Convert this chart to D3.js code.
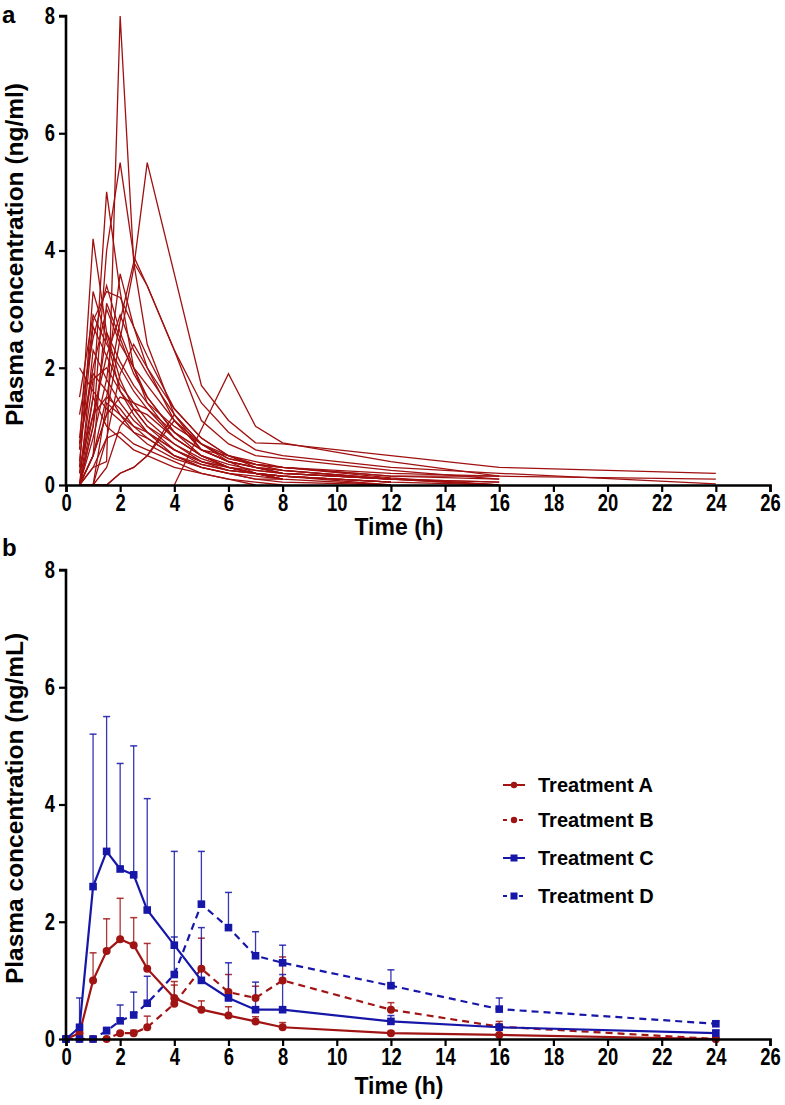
<!DOCTYPE html>
<html><head><meta charset="utf-8">
<script src="https://cdn.jsdelivr.net/npm/d3@7"></script>
<style>
body{margin:0;background:#fff;}
svg{display:block;}
.tick text{font-family:"Liberation Sans",Arial,sans-serif;font-weight:bold;}
</style></head>
<body><svg id="chart" width="785" height="1105"></svg>
<script>
// ---------- Data ----------
const xTicks = [0,2,4,6,8,10,12,14,16,18,20,22,24,26];
const yTicks = [0,2,4,6,8];
// panel a: individual subject sampling times and concentrations
const subjTimes = [0.5,1,1.5,2,2.5,3,4,5,6,7,8,12,16,24];
const subjects = [
  [0.0,0.3,0.4,8.0,3.8,2.4,1.2,0.7,0.45,0.35,0.3,0.12,0.0,null],
  [0.0,1.0,4.0,5.5,3.9,3.4,2.3,1.1,0.7,0.5,0.45,0.25,0.1,null],
  [0.0,0.5,1.2,2.5,3.7,5.5,3.6,1.7,1.1,0.72,0.7,0.5,0.3,0.2],
  [0.2,1.5,5.0,3.3,2.0,1.4,0.8,0.5,0.3,0.2,0.15,0.05,0.0,null],
  [0.6,4.2,2.6,1.8,1.3,1.0,0.6,0.35,0.25,0.2,0.15,0.05,null,null],
  [1.2,2.5,3.4,2.6,2.0,1.5,0.9,0.6,0.4,0.3,0.25,0.1,0.05,null],
  [0.8,2.8,3.3,3.2,2.7,2.2,1.3,0.8,0.5,0.4,0.3,0.15,0.15,0.1],
  [0.0,0.5,1.5,2.8,3.8,3.4,2.3,1.4,0.9,0.6,0.5,0.3,0.2,0.02],
  [null,null,null,null,null,null,0.0,0.95,1.9,1.0,0.72,0.4,0.15,null],
  [1.5,2.9,2.4,2.0,1.6,1.3,0.8,0.5,0.3,0.25,0.2,null,null,null],
  [0.7,2.0,3.0,2.4,2.0,1.7,1.1,0.6,0.4,0.3,0.2,0.1,null,null],
  [0.0,1.2,2.2,2.9,2.3,1.9,1.2,0.7,0.45,0.35,0.3,0.15,0.1,null],
  [0.3,3.3,2.5,1.6,1.2,0.9,0.5,0.3,0.2,0.1,0.1,null,null,null],
  [0.0,0.8,1.8,3.6,2.7,2.0,1.1,0.6,0.4,0.3,0.2,0.1,null,null],
  [0.2,1.8,2.0,1.6,1.3,1.0,0.7,0.4,0.3,0.2,0.15,0.0,null,null],
  [0.0,0.5,1.2,1.5,1.4,1.3,0.9,0.6,0.4,0.3,0.25,0.1,0.0,null],
  [0.0,1.0,2.6,2.1,1.7,1.4,1.0,0.7,0.5,0.35,0.3,0.2,0.15,null],
  [0.0,0.0,0.3,1.0,1.3,1.2,0.8,0.5,0.3,0.2,0.1,0.0,null,null],
  [0.3,1.2,1.5,1.3,1.0,0.8,0.5,0.3,0.2,0.15,0.1,null,null,null],
  [0.0,2.3,1.8,1.4,1.1,0.9,0.6,0.4,0.25,0.2,0.1,null,null,null],
  [0.0,0.0,0.0,0.2,0.3,0.5,1.1,0.7,0.4,0.2,0.1,null,null,null],
  [0.0,0.0,0.8,0.9,0.7,0.6,0.4,0.2,0.1,0.05,0.0,null,null,null],
  [0.0,1.5,1.0,0.8,0.6,0.5,0.3,0.2,0.1,0.0,null,null,null,null],
  [0.0,0.0,0.0,0.2,0.3,0.5,1.2,0.6,0.5,0.3,0.2,0.1,null,null],
  [2.0,1.6,1.3,1.1,0.9,0.8,0.5,0.35,0.25,0.2,0.1,null,null,null],
  [0.0,0.5,3.1,2.5,1.9,1.5,0.9,0.5,0.35,0.25,0.2,0.1,0.05,null],
  [0.4,2.7,2.2,1.7,1.4,1.1,0.7,0.45,0.3,0.2,0.15,0.05,null,null],
  [0.0,0.3,0.8,1.9,2.4,2.0,1.3,0.8,0.5,0.35,0.25,0.1,0.0,null],
  [0.0,0.0,1.4,1.2,1.0,0.9,0.6,0.4,0.3,0.2,0.15,0.05,null,null],
  [0.7,1.9,1.6,1.2,0.9,0.7,0.45,0.3,0.2,0.1,0.05,0.0,null,null]
];
// panel b: mean concentrations and upper error (mean + SD)
const times = [0,0.5,1,1.5,2,2.5,3,4,5,6,7,8,12,16,24];
const meanA = [0,0.1,1.0,1.5,1.7,1.6,1.2,0.7,0.5,0.4,0.3,0.2,0.1,0.07,0.0];
const upA   = [0,0.15,1.47,2.05,2.4,2.07,1.63,0.98,0.65,0.55,0.38,0.28,0.13,0.09,0.0];
const meanB = [0,0,0,0,0.1,0.1,0.2,0.6,1.2,0.8,0.7,1.0,0.5,0.21,0.0];
const upB   = [0,0,0,0,0.12,0.15,0.39,0.92,1.72,1.1,0.9,1.4,0.62,0.3,0.02];
const meanC = [0,0.2,2.6,3.2,2.9,2.8,2.2,1.6,1.0,0.7,0.5,0.5,0.3,0.2,0.1];
const upC   = [0,0.7,5.2,5.5,4.7,5.0,4.1,3.2,1.9,1.3,0.97,1.1,0.4,0.25,0.15];
const meanD = [0,0,0,0.14,0.31,0.41,0.61,1.1,2.3,1.9,1.42,1.3,0.91,0.51,0.26];
const upD   = [0,0,0,0.2,0.58,0.8,1.07,1.74,3.2,2.5,1.83,1.6,1.18,0.7,0.3];
const seriesNames = ["Treatment A","Treatment B","Treatment C","Treatment D"];

// ---------- Styles ----------
const RED = "#a01414", BLUE = "#1616a8";
const series = [
  {name:seriesNames[0], mean:meanA, up:upA, color:RED, dash:null, shape:"circle"},
  {name:seriesNames[1], mean:meanB, up:upB, color:RED, dash:"7,5", shape:"circle"},
  {name:seriesNames[2], mean:meanC, up:upC, color:BLUE, dash:null, shape:"square"},
  {name:seriesNames[3], mean:meanD, up:upD, color:BLUE, dash:"7,5", shape:"square"}
];

const svg = d3.select("#chart");
const TXT = "'Liberation Sans',Arial,Helvetica,sans-serif";
const NARROW = 0.8; // horizontal compression of tick labels (condensed look)

function drawAxes(x, y, yLabel, xLabelY, panelLetter, letterY){
  const gx = svg.append("g").attr("transform",`translate(0,${y(0)})`)
    .call(d3.axisBottom(x).tickValues(xTicks).tickSize(7).tickPadding(3).tickFormat(d3.format("d")));
  const gy = svg.append("g").attr("transform",`translate(${x(0)},0)`)
    .call(d3.axisLeft(y).tickValues(yTicks).tickSize(7).tickPadding(4).tickFormat(d3.format("d")));
  [gx,gy].forEach(g=>{
    g.select(".domain").attr("stroke","#000").attr("stroke-width",2.6);
    g.selectAll(".tick line").attr("stroke","#000").attr("stroke-width",2.2);
    g.selectAll(".tick text").attr("fill","#000").attr("font-size",23);
  });
  gx.selectAll(".tick text").attr("transform",`scale(${NARROW},1)`);
  gy.selectAll(".tick text").attr("x",-11/NARROW).attr("transform",`scale(${NARROW},1)`);
  gy.select(".domain").attr("d",`M-7,${y(8)}H0V${y(0)}`);
  svg.append("text").attr("x",399).attr("y",xLabelY)
    .attr("text-anchor","middle").attr("font-family",TXT).attr("font-weight","bold")
    .attr("font-size",23).text("Time (h)");
  svg.append("text").attr("transform",`translate(23,${(y(0)+y(8))/2+4}) rotate(-90)`)
    .attr("text-anchor","middle").attr("font-family",TXT).attr("font-weight","bold")
    .attr("font-size",24.5).text(yLabel);
  svg.append("text").attr("x",2).attr("y",letterY).attr("font-family",TXT)
    .attr("font-weight","bold").attr("font-size",24).text(panelLetter);
}

// ---------- Panel a ----------
const xA = d3.scaleLinear().domain([0,26]).range([66,770]);
const yA = d3.scaleLinear().domain([0,8]).range([485,16]);
const lineA = d3.line().defined(d=>d[1]!==null).x(d=>xA(d[0])).y(d=>yA(d[1]));
svg.append("g").selectAll("path").data(subjects).join("path")
  .attr("d",s=>lineA(s.map((v,i)=>[subjTimes[i],v])))
  .attr("fill","none").attr("stroke","#a01010").attr("stroke-width",1.3)
  .attr("stroke-linejoin","miter");
drawAxes(xA,yA,"Plasma concentration (ng/ml)",535,"a",23);

// ---------- Panel b ----------
const xB = d3.scaleLinear().domain([0,26]).range([66,770]);
const yB = d3.scaleLinear().domain([0,8]).range([1039,570]);
const lineB = d3.line().x(d=>xB(d[0])).y(d=>yB(d[1]));
const gB = svg.append("g");
series.forEach(s=>{
  const g = gB.append("g");
  times.forEach((t,i)=>{
    if(s.up[i] > s.mean[i] + 0.01){
      g.append("line").attr("x1",xB(t)).attr("x2",xB(t))
        .attr("y1",yB(s.mean[i])).attr("y2",yB(s.up[i]))
        .attr("stroke",s.color).attr("stroke-width",1.3).attr("opacity",0.85);
      g.append("line").attr("x1",xB(t)-3.5).attr("x2",xB(t)+3.5)
        .attr("y1",yB(s.up[i])).attr("y2",yB(s.up[i]))
        .attr("stroke",s.color).attr("stroke-width",1.5).attr("opacity",0.85);
    }
  });
});
series.forEach(s=>{
  const g = gB.append("g");
  g.append("path").attr("d",lineB(times.map((t,i)=>[t,s.mean[i]])))
    .attr("fill","none").attr("stroke",s.color).attr("stroke-width",2.2)
    .attr("stroke-dasharray",s.dash);
  times.forEach((t,i)=>{
    if(s.shape==="circle"){
      g.append("circle").attr("cx",xB(t)).attr("cy",yB(s.mean[i])).attr("r",4).attr("fill",s.color);
    } else {
      g.append("rect").attr("x",xB(t)-3.8).attr("y",yB(s.mean[i])-3.8)
        .attr("width",7.6).attr("height",7.6).attr("fill",s.color);
    }
  });
});
drawAxes(xB,yB,"Plasma concentration (ng/mL)",1094,"b",556);

// legend
const legY = [785,820,858,896];
series.forEach((s,i)=>{
  const g = svg.append("g").attr("transform",`translate(503,${legY[i]})`);
  g.append("line").attr("x1",0).attr("x2",22).attr("y1",0).attr("y2",0)
    .attr("stroke",s.color).attr("stroke-width",2).attr("stroke-dasharray",s.dash?"4,4":null);
  if(s.shape==="circle") g.append("circle").attr("cx",11).attr("cy",0).attr("r",3.2).attr("fill",s.color);
  else g.append("rect").attr("x",7.5).attr("y",-3.5).attr("width",7).attr("height",7).attr("fill",s.color);
  g.append("text").attr("x",35).attr("y",7).attr("font-family",TXT).attr("font-weight","bold")
    .attr("font-size",20).attr("fill","#000").text(s.name);
});
</script></body></html>
